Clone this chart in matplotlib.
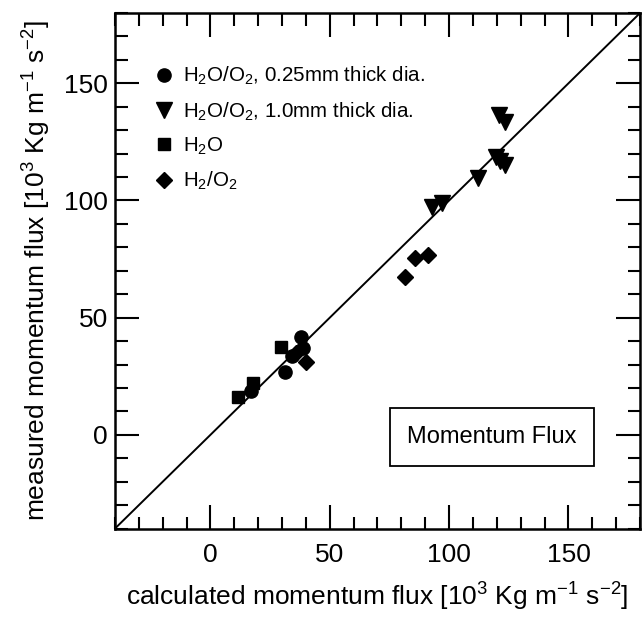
import matplotlib
matplotlib.use("Agg")
import matplotlib.pyplot as plt
from matplotlib.ticker import MultipleLocator

plt.rcParams["font.family"] = ["Liberation Sans", "DejaVu Sans"]
plt.rcParams["mathtext.fontset"] = "custom"
plt.rcParams["mathtext.rm"] = "Liberation Sans"
plt.rcParams["mathtext.it"] = "Liberation Sans:italic"
plt.rcParams["mathtext.bf"] = "Liberation Sans:bold"

# calculated (x) vs measured (y) momentum flux, 10^3 Kg m^-1 s^-2
circ_x = [17.1, 31.4, 34.0, 38.1, 38.8]
circ_y = [18.9, 27.0, 33.5, 41.9, 37.0]

tri_x = [92.7, 96.9, 112.3, 119.5, 121.2, 123.5, 120.7, 123.5]
tri_y = [97.4, 98.8, 109.5, 118.7, 117.0, 115.2, 136.5, 133.7]

sq_x = [11.5, 17.8, 29.7]
sq_y = [16.1, 22.0, 37.7]

dia_x = [36.0, 40.2, 81.5, 85.7, 91.3]
dia_y = [35.0, 31.3, 67.5, 75.4, 76.8]

lims = [-40, 180]

fig = plt.figure(figsize=(6.42, 6.19), dpi=100)
ax = fig.add_axes([0.179, 0.146, 0.818, 0.833])

# parity line
ax.plot(lims, lims, color="black", lw=1.4, zorder=1)

ax.plot(circ_x, circ_y, "o", color="black", ms=9.5, ls="none",
        label=r"H$_2$O/O$_2$, 0.25mm thick dia.")
ax.plot(tri_x, tri_y, "v", color="black", ms=11, ls="none",
        label=r"H$_2$O/O$_2$, 1.0mm thick dia.")
ax.plot(sq_x, sq_y, "s", color="black", ms=8.5, ls="none",
        label=r"H$_2$O")
ax.plot(dia_x, dia_y, "D", color="black", ms=8, ls="none",
        label=r"H$_2$/O$_2$")

ax.set_xlim(lims)
ax.set_ylim(lims)
ax.xaxis.set_major_locator(MultipleLocator(50))
ax.xaxis.set_minor_locator(MultipleLocator(10))
ax.yaxis.set_major_locator(MultipleLocator(50))
ax.yaxis.set_minor_locator(MultipleLocator(10))
ax.tick_params(which="both", direction="in", top=True, right=True,
               width=1.5, labelsize=19)
ax.tick_params(which="major", length=17)
ax.tick_params(which="minor", length=9)
ax.tick_params(axis="x", which="both", pad=10)
ax.tick_params(axis="y", which="both", pad=5)
for s in ax.spines.values():
    s.set_linewidth(1.8)

ax.set_xlabel(r"calculated momentum flux [10$^3$ Kg m$^{-1}$ s$^{-2}$]",
              fontsize=19, labelpad=10)
ax.set_ylabel(r"measured momentum flux [10$^3$ Kg m$^{-1}$ s$^{-2}$]",
              fontsize=19, labelpad=8)

ax.legend(loc="upper left", bbox_to_anchor=(0.06, 0.915), frameon=False,
          fontsize=14.8, handletextpad=0.5, labelspacing=0.63,
          handlelength=0.9, borderaxespad=0)

ax.text(0.718, 0.178, "Momentum Flux", transform=ax.transAxes,
        ha="center", va="center", fontsize=17,
        bbox=dict(boxstyle="square,pad=0.75", fc="white", ec="black", lw=1.3))

fig.savefig("out.png", dpi=100)
